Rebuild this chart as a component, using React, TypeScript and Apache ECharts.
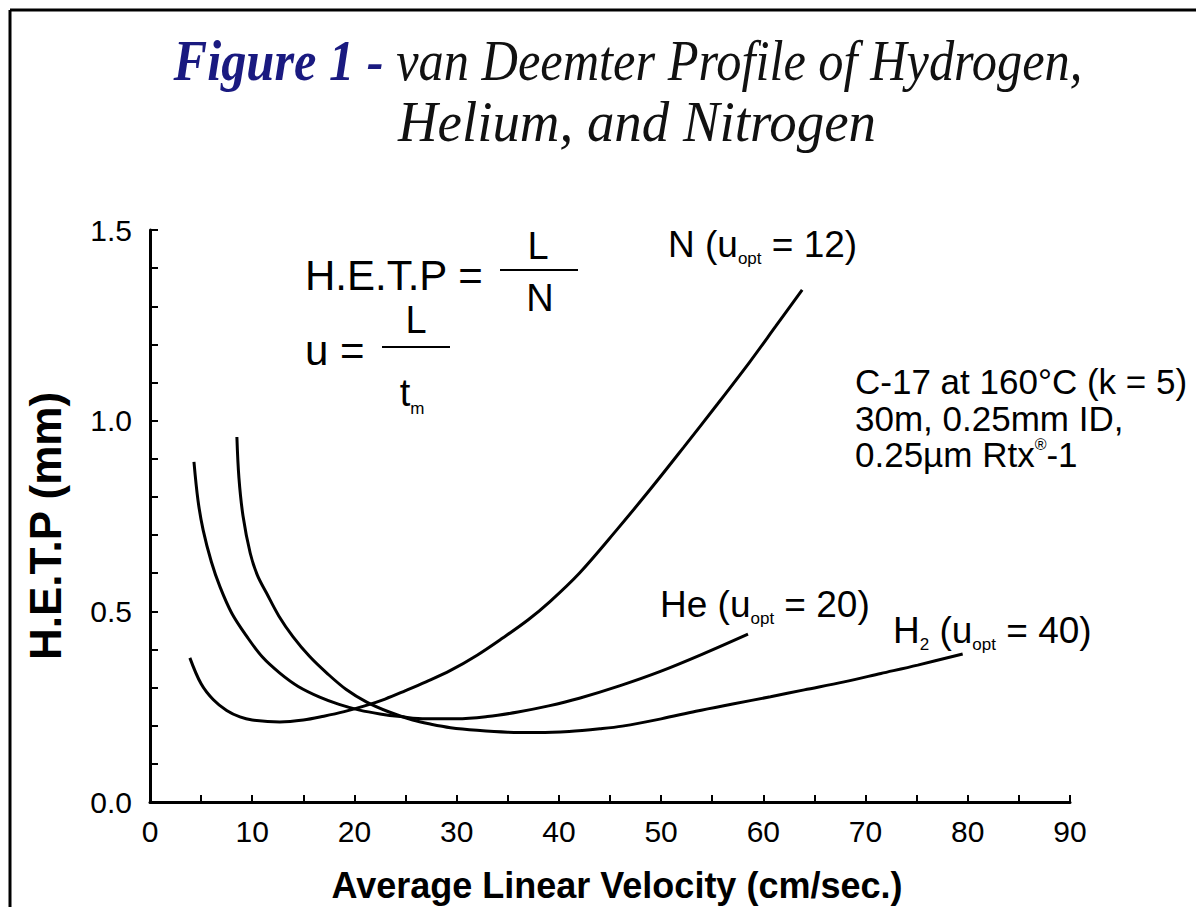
import { useEffect, useRef } from "react";
import * as echarts from "echarts";

// Nitrogen (u_opt = 12)
const nX = [3.9, 5, 6.2, 7.5, 8.8, 10, 12.7, 15, 17, 19, 21, 23, 25, 27, 29.4, 32, 34.5, 37, 39.1, 42, 45.7, 49, 52.2, 55.5, 58.7, 61.2, 63.8];
const nY = [0.378, 0.31, 0.268, 0.24, 0.223, 0.215, 0.21, 0.215, 0.225, 0.237, 0.252, 0.27, 0.292, 0.315, 0.345, 0.385, 0.43, 0.478, 0.525, 0.6, 0.715, 0.822, 0.93, 1.043, 1.155, 1.247, 1.343];

// Helium (u_opt = 20)
const heX = [4.3, 4.7, 5.2, 6, 6.85, 8, 9.5, 11, 12.7, 14.5, 16.6, 18.5, 20.5, 22.5, 24.5, 27, 30, 33, 36, 39, 42, 46, 50, 54, 58.5];
const heY = [0.892, 0.79, 0.713, 0.63, 0.564, 0.495, 0.433, 0.38, 0.338, 0.303, 0.275, 0.256, 0.241, 0.231, 0.224, 0.218, 0.218, 0.224, 0.236, 0.252, 0.272, 0.305, 0.343, 0.387, 0.44];

// Hydrogen (u_opt = 40)
const h2X = [8.5, 8.7, 9.1, 9.8, 10.5, 11.4, 12.6, 14, 15.6, 17.3, 19.2, 21.2, 23.4, 25.7, 27.5, 29.4, 32, 35, 38, 41, 44, 46.2, 50, 53.4, 57, 60.7, 64, 67.9, 71.5, 75.1, 79.5];
const h2Y = [0.957, 0.85, 0.75, 0.653, 0.595, 0.548, 0.488, 0.433, 0.382, 0.338, 0.295, 0.262, 0.236, 0.215, 0.204, 0.195, 0.188, 0.183, 0.182, 0.185, 0.192, 0.199, 0.218, 0.238, 0.257, 0.276, 0.294, 0.315, 0.337, 0.359, 0.388];

const xMin = 0;
const xMax = 90;
const xStep = 5;
const yMin = 0;
const yMax = 1.5;
const yStep = 0.1;

const titleLine1Bold = "Figure 1 -";
const titleLine1Rest = " van Deemter Profile of Hydrogen,";
const titleLine2 = "Helium, and Nitrogen";
const xName = "Average Linear Velocity (cm/sec.)";
const yName = "H.E.T.P (mm)";
const conditions = ["C-17 at 160°C (k = 5)", "30m, 0.25mm ID,", "0.25µm Rtx"];

const SANS = "'Liberation Sans', Arial, Helvetica, sans-serif";
const SERIF = "'Liberation Serif', 'Times New Roman', serif";

const zip = (xs: number[], ys: number[]) => xs.map((x, i) => [x, ys[i]]);

const richBase = (size: number, lh = size * 1.25) => ({
  a: { fontFamily: SANS, fontSize: size, fill: "#000", color: "#000", verticalAlign: "middle", lineHeight: lh },
  s: { fontFamily: SANS, fontSize: Math.round(size * 0.45), fill: "#000", color: "#000", verticalAlign: "bottom" },
  p: { fontFamily: SANS, fontSize: Math.round(size * 0.45), fill: "#000", color: "#000", verticalAlign: "top" },
});

const rtext = (x: number, y: number, text: string, size: number, align = "left", lh?: number) => ({
  type: "text",
  x,
  y,
  style: {
    text,
    rich: richBase(size, lh),
    align,
    textAlign: align,
    verticalAlign: "middle",
    textVerticalAlign: "middle",
  },
});

const ptext = (x: number, y: number, text: string, size: number, align = "left", extra: any = {}) => ({
  type: "text",
  x,
  y,
  style: {
    text,
    fontFamily: SANS,
    fontSize: size,
    fill: "#000",
    align,
    textAlign: align,
    verticalAlign: "middle",
    textVerticalAlign: "middle",
    ...extra,
  },
});

export default function App() {
  const ref = useRef<HTMLDivElement>(null);

  useEffect(() => {
    document.body.style.margin = "0";
    if (!ref.current) return;
    const chart = echarts.init(ref.current, undefined, { renderer: "svg" });

    const lineSeries = (name: string, xs: number[], ys: number[]) => ({
      name,
      type: "line",
      data: zip(xs, ys),
      showSymbol: false,
      symbol: "none",
      smooth: 0.35,
      lineStyle: { color: "#000", width: 3 },
    });

    const option: any = {
      animation: false,
      backgroundColor: "#fff",
      grid: { left: 150, right: 126, top: 230, bottom: 105, containLabel: false },
      xAxis: {
        type: "value",
        min: xMin,
        max: xMax,
        interval: xStep,
        axisLine: { show: true, lineStyle: { color: "#000", width: 3 } },
        axisTick: { show: true, inside: true, length: 7, lineStyle: { color: "#000", width: 2 } },
        splitLine: { show: false },
        axisLabel: {
          color: "#000",
          fontFamily: SANS,
          fontSize: 30,
          margin: 14,
          formatter: (v: number) => (Math.round(v) % 10 === 0 ? String(Math.round(v)) : ""),
        },
      },
      yAxis: {
        type: "value",
        min: yMin,
        max: yMax,
        interval: yStep,
        axisLine: { show: true, lineStyle: { color: "#000", width: 3 } },
        axisTick: { show: true, inside: true, length: 8, lineStyle: { color: "#000", width: 2 } },
        splitLine: { show: false },
        axisLabel: {
          color: "#000",
          fontFamily: SANS,
          fontSize: 30,
          margin: 18,
          formatter: (v: number) => {
            const r = Math.round(v * 10);
            return r % 5 === 0 ? (r / 10).toFixed(1) : "";
          },
        },
      },
      series: [
        lineSeries("N", nX, nY),
        lineSeries("He", heX, heY),
        lineSeries("H2", h2X, h2Y),
      ],
      graphic: [
        // frame
        { type: "line", shape: { x1: 10, y1: 10, x2: 1196, y2: 10 }, style: { stroke: "#000", lineWidth: 3 } },
        { type: "line", shape: { x1: 10, y1: 10, x2: 10, y2: 907 }, style: { stroke: "#000", lineWidth: 3 } },
        // title
        {
          type: "text",
          x: 628,
          y: 62,
          scaleX: 0.9,
          style: {
            text: `{b|${titleLine1Bold}}{r|${titleLine1Rest}}`,
            align: "center",
            textAlign: "center",
            verticalAlign: "middle",
            textVerticalAlign: "middle",
            rich: {
              b: { fontFamily: SERIF, fontStyle: "italic", fontWeight: "bold", fontSize: 56, fill: "#1a1a80", color: "#1a1a80" },
              r: { fontFamily: SERIF, fontStyle: "italic", fontSize: 56, fill: "#111", color: "#111" },
            },
          },
        },
        {
          type: "text",
          x: 637,
          y: 122,
          scaleX: 0.98,
          style: {
            text: titleLine2,
            fontFamily: SERIF,
            fontStyle: "italic",
            fontSize: 56,
            fill: "#111",
            align: "center",
            textAlign: "center",
            verticalAlign: "middle",
            textVerticalAlign: "middle",
          },
        },
        // axis names
        ptext(617, 885, xName, 36, "center", { fontWeight: "bold" }),
        {
          type: "text",
          x: 45,
          y: 526,
          rotation: Math.PI / 2,
          style: {
            text: yName,
            fontFamily: SANS,
            fontWeight: "bold",
            fontSize: 44,
            fill: "#000",
            align: "center",
            textAlign: "center",
            verticalAlign: "middle",
            textVerticalAlign: "middle",
          },
        },
        // equations
        ptext(305, 275, "H.E.T.P =", 42),
        { type: "line", shape: { x1: 500, y1: 270, x2: 578, y2: 270 }, style: { stroke: "#000", lineWidth: 2 } },
        ptext(538, 246, "L", 38, "center"),
        ptext(540, 298, "N", 38, "center"),
        ptext(305, 350, "u =", 42),
        { type: "line", shape: { x1: 382, y1: 347, x2: 450, y2: 347 }, style: { stroke: "#000", lineWidth: 2 } },
        ptext(416, 320, "L", 38, "center"),
        rtext(412, 393, "{a|t}{s|m}", 38, "center"),
        // curve labels
        rtext(668, 244, "{a|N (u}{s|opt}{a| = 12)}", 37),
        rtext(660, 604, "{a|He (u}{s|opt}{a| = 20)}", 37),
        rtext(893, 630, "{a|H}{s|2}{a| (u}{s|opt}{a| = 40)}", 37),
        // conditions
        rtext(855, 418, `{a|${conditions[0]}}\n{a|${conditions[1]}}\n{a|${conditions[2]}}{p|®}{a|-1}`, 35, "left", 36.5),
      ],
    };

    chart.setOption(option);
    return () => chart.dispose();
  }, []);

  return <div ref={ref} style={{ width: 1196, height: 907 }} />;
}
